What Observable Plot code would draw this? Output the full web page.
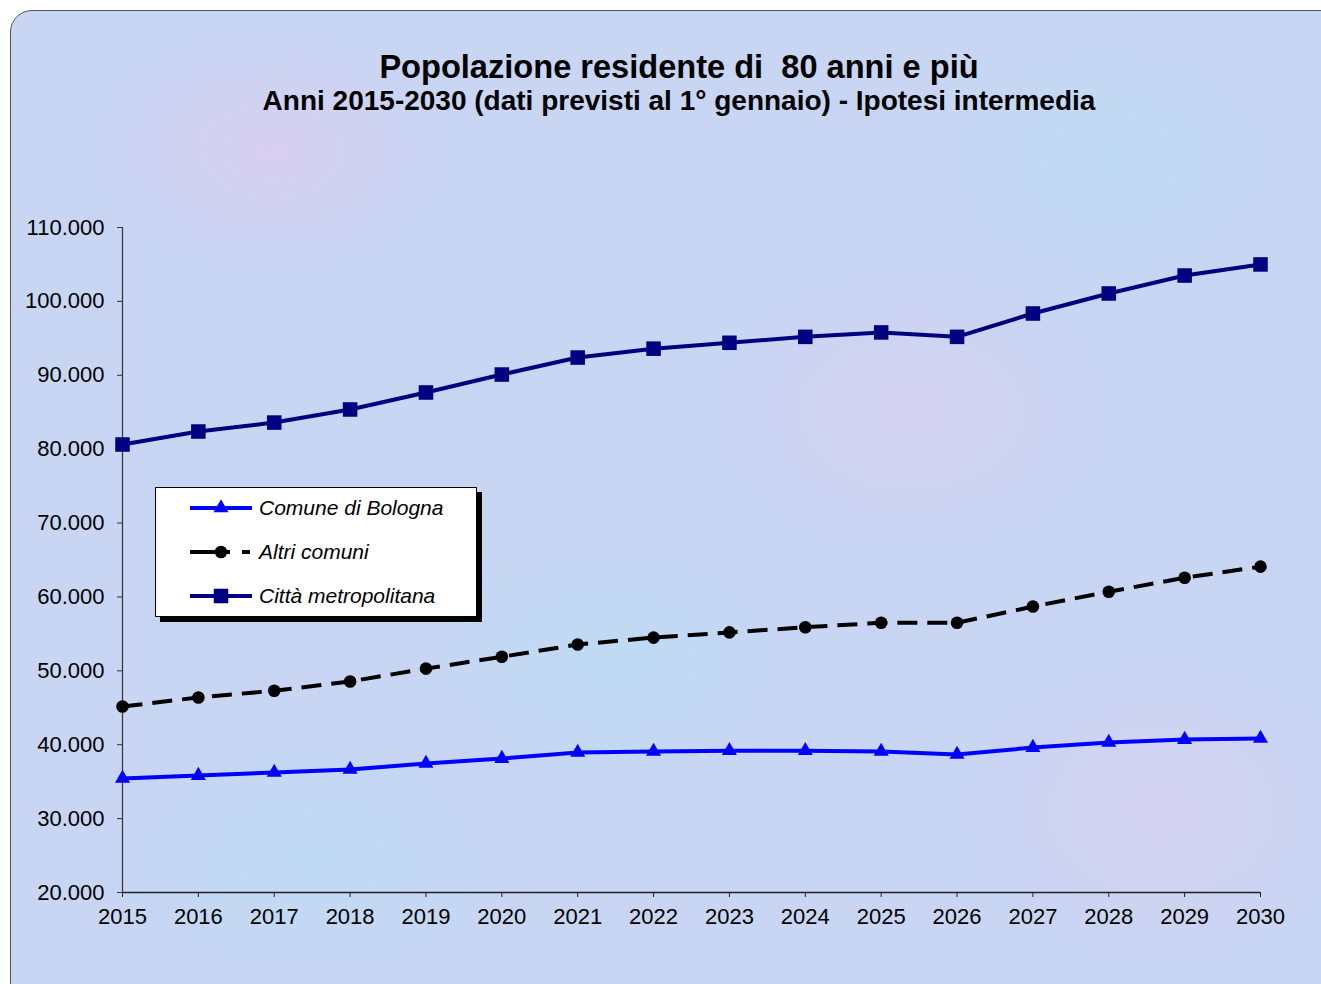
<!DOCTYPE html>
<html>
<head>
<meta charset="utf-8">
<script src="https://cdn.jsdelivr.net/npm/d3@7"></script>
<script src="https://cdn.jsdelivr.net/npm/@observablehq/plot@0.6"></script>
<style>
  html, body { margin: 0; padding: 0; background: #ffffff; overflow: hidden; }
  #page { position: relative; width: 1321px; height: 984px; overflow: hidden; font-family: "Liberation Sans", Arial, sans-serif; }
  #frame {
    position: absolute; left: 10px; top: 10px; width: 1360px; height: 1020px;
    border: 1.5px solid #555; border-radius: 22px;
    background-color: #c8d5f3;
    background-image:
      radial-gradient(ellipse 180px 120px at 260px 140px, rgba(235,200,235,0.45), transparent),
      radial-gradient(ellipse 200px 140px at 900px 400px, rgba(235,205,235,0.35), transparent),
      radial-gradient(ellipse 220px 150px at 600px 650px, rgba(180,225,245,0.45), transparent),
      radial-gradient(ellipse 200px 150px at 1150px 800px, rgba(235,205,235,0.35), transparent),
      radial-gradient(ellipse 240px 160px at 300px 850px, rgba(180,225,245,0.4), transparent),
      radial-gradient(ellipse 220px 160px at 1100px 150px, rgba(180,225,245,0.4), transparent);
  }
  #title { position: absolute; left: 0; width: 1358px; top: 48px; text-align: center; font-weight: bold; font-size: 32.6px; line-height: 38px; color: #000; }
  #subtitle { position: absolute; left: 0; width: 1358px; top: 85px; text-align: center; font-weight: bold; font-size: 28px; line-height: 32px; color: #000; }
  #chart { position: absolute; left: 0; top: 0; }
  #legend {
    position: absolute; left: 155px; top: 487px; width: 320px; height: 128px;
    background: #fff; border: 1.5px solid #000; box-shadow: 5px 5px 0 #000;
  }
  .lrow { position: absolute; left: 34px; height: 24px; display: flex; align-items: center; }
  .lrow span { font-style: italic; font-size: 21px; margin-left: 5px; color: #000; white-space: nowrap; }
</style>
</head>
<body>
<div id="page">
  <div id="frame"></div>
  <div id="title">Popolazione residente di&nbsp; 80 anni e più</div>
  <div id="subtitle">Anni 2015-2030 (dati previsti al 1° gennaio) - Ipotesi intermedia</div>
  <div id="chart"></div>
  <div id="legend"></div>
</div>
<script>
const years = [2015,2016,2017,2018,2019,2020,2021,2022,2023,2024,2025,2026,2027,2028,2029,2030];
const seriesNames = ["Comune di Bologna", "Altri comuni", "Città metropolitana"];
const bologna = [35430,35830,36240,36650,37460,38130,38950,39080,39200,39200,39080,38680,39620,40300,40700,40840];
const altri   = [45170,46400,47300,48560,50300,51900,53560,54500,55200,55900,56500,56500,58700,60700,62600,64100];
const metro   = [80630,82390,83600,85370,87670,90100,92400,93600,94400,95200,95800,95200,98360,101070,103500,105000];
const yTicks = [20000,30000,40000,50000,60000,70000,80000,90000,100000,110000];

const seriesValues = [bologna, altri, metro];
const styles = {
  "Comune di Bologna": {color: "#0000ff", symbol: "triangle", r: 5.6, dash: null},
  "Altri comuni": {color: "#000000", symbol: "circle", r: 6.3, dash: "20,10"},
  "Città metropolitana": {color: "#000080", symbol: "square", r: 8.2, dash: null}
};
const data = [];
seriesNames.forEach((s, i) => years.forEach((y, j) => data.push({serie: s, year: y, value: seriesValues[i][j]})));

const loc = d3.formatLocale({decimal: ",", thousands: ".", grouping: [3], currency: ["", ""]});
const fmt = loc.format(",d");

const marks = [
  Plot.ruleX([2015], {y1: 20000, y2: 110000, stroke: "#333", strokeWidth: 1.2}),
  Plot.ruleY([20000], {x1: 2015, x2: 2030, stroke: "#222", strokeWidth: 1.5}),
  Plot.axisY({ticks: yTicks, tickFormat: fmt, tickSize: 5, tickPadding: 13, fontSize: 22, stroke: "#333", label: null}),
  Plot.axisX({ticks: years, tickFormat: d => String(d), tickSize: 5, tickPadding: 11, fontSize: 22, stroke: "#222", label: null})
];
seriesNames.forEach(s => {
  const st = styles[s];
  const d = data.filter(r => r.serie === s);
  marks.push(Plot.line(d, {x: "year", y: "value", stroke: st.color, strokeWidth: 4, strokeDasharray: st.dash, strokeLinecap: "butt"}));
  marks.push(Plot.dot(d, {x: "year", y: "value", fill: st.color, stroke: "none", symbol: st.symbol, r: st.r}));
});

const chart = Plot.plot({
  width: 1321,
  height: 984,
  marginLeft: 122,
  marginRight: 61,
  marginTop: 227,
  marginBottom: 92,
  style: {background: "transparent", fontFamily: "'Liberation Sans', Arial, sans-serif", color: "#000", overflow: "visible"},
  x: {type: "linear", domain: [2015, 2030], axis: null, label: null},
  y: {domain: [20000, 110000], axis: null, label: null},
  marks
});
document.getElementById("chart").appendChild(chart);

// Legend
const legend = document.getElementById("legend");
const rowTops = [8, 52, 96];
seriesNames.forEach((s, i) => {
  const st = styles[s];
  const row = document.createElement("div");
  row.className = "lrow";
  row.style.top = rowTops[i] + "px";
  const svg = d3.create("svg").attr("width", 64).attr("height", 24);
  svg.append("line").attr("x1", 0).attr("x2", 62).attr("y1", 12).attr("y2", 12)
    .attr("stroke", st.color).attr("stroke-width", 4).attr("stroke-dasharray", st.dash ? "40,12,8" : null);
  const sym = st.symbol === "triangle" ? d3.symbolTriangle : st.symbol === "square" ? d3.symbolSquare : d3.symbolCircle;
  svg.append("path").attr("transform", "translate(31,12)")
    .attr("d", d3.symbol(sym, Math.PI * st.r * st.r)()).attr("fill", st.color);
  row.appendChild(svg.node());
  const t = document.createElement("span");
  t.textContent = s;
  row.appendChild(t);
  legend.appendChild(row);
});
</script>
</body>
</html>
